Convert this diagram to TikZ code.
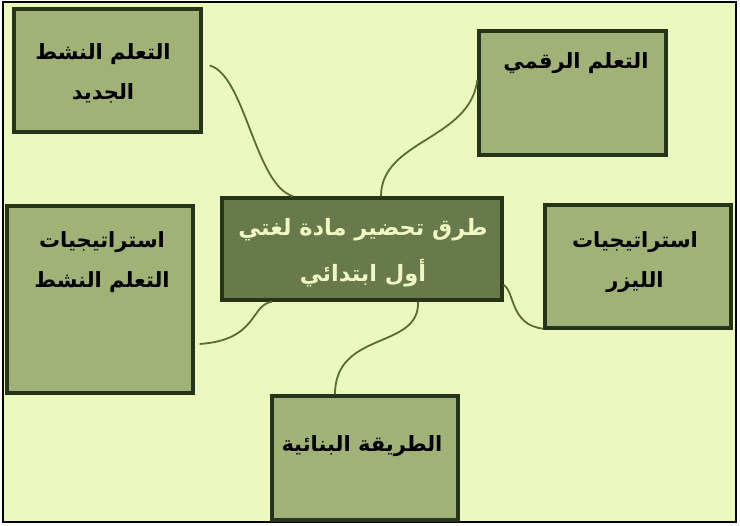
\documentclass[tikz,border=0pt]{standalone}
\usepackage{fontspec}
\newfontfamily\arabicfont[Script=Arabic]{DejaVu Sans}
\TeXXeTstate=1
\usetikzlibrary{calc}
\definecolor{bgpage}{RGB}{236,249,190}
\definecolor{boxfill}{RGB}{160,178,118}
\definecolor{boxdraw}{RGB}{38,52,26}
\definecolor{centerfill}{RGB}{104,122,74}
\definecolor{centertext}{RGB}{240,248,196}
\definecolor{linkcol}{RGB}{88,108,52}
\tikzset{
  branchbox/.style={draw=boxdraw, fill=boxfill, line width=3.4pt, inner sep=0pt},
  hubbox/.style={draw=boxdraw, fill=centerfill, line width=3.4pt, inner sep=0pt},
  boxtext/.style={font=\arabicfont\bfseries\fontsize{21}{40}\selectfont, text=black, align=center, inner sep=0pt},
  hubtext/.style={font=\arabicfont\bfseries\fontsize{22.5}{46}\selectfont, text=centertext, align=center, inner sep=0pt},
  link/.style={draw=linkcol, line width=1.8pt}
}
\begin{document}
\begin{tikzpicture}[x=1pt,y=-1pt]
\useasboundingbox (0,0) rectangle (740,526);
\fill[white] (0,0) rectangle (740,526);
\draw[fill=bgpage, line width=2.5pt] (3,2) rectangle (736,522);
% boxes
\node[branchbox, minimum width=187pt, minimum height=123pt] (b1) at (107.5,70.5) {};
\node[branchbox, minimum width=187pt, minimum height=124pt] (b2) at (572.5,93) {};
\node[branchbox, minimum width=186pt, minimum height=187pt] (b3) at (100,299.5) {};
\node[hubbox, minimum width=280pt, minimum height=102pt] (c) at (362,249) {};
\node[branchbox, minimum width=186pt, minimum height=123pt] (b4) at (638,266.5) {};
\node[branchbox, minimum width=186pt, minimum height=124pt] (b5) at (365,458) {};
% texts
\node[boxtext] (t1) at (103,73) {\beginR التعلم النشط\endR\\\beginR الجديد\endR};
\node[boxtext] (t2) at (576,63) {\beginR التعلم الرقمي\endR};
\node[boxtext] (t3) at (102,262) {\beginR استراتيجيات\endR\\\beginR التعلم النشط\endR};
\node[hubtext] (tc) at (363,253) {\beginR طرق تحضير مادة لغتي\endR\\\beginR أول ابتدائي\endR};
\node[boxtext] (t4) at (635,262) {\beginR استراتيجيات\endR\\\beginR الليزر\endR};
\node[boxtext] (t5) at (362,446) {\beginR الطريقة البنائية\endR};
% connectors
\draw[link] ([xshift=7pt,yshift=5pt]b1.east) .. controls (245,75) and (255,185) .. ([xshift=-69pt]c.north);
\draw[link] ([xshift=19pt]c.north) .. controls (381,140) and (470,140) .. ([yshift=13pt]b2.west);
\draw[link] ([xshift=-90pt]c.south) .. controls (250,305) and (258,340) .. ([xshift=5pt,yshift=-44.5pt]b3.east);
\draw[link] ([yshift=-36pt]c.east) .. controls (515,292) and (510,325) .. ([yshift=1pt]b4.south west);
\draw[link] ([xshift=56pt]c.south) .. controls (420,350) and (335,330) .. ([xshift=-30pt]b5.north);
\end{tikzpicture}
\end{document}
